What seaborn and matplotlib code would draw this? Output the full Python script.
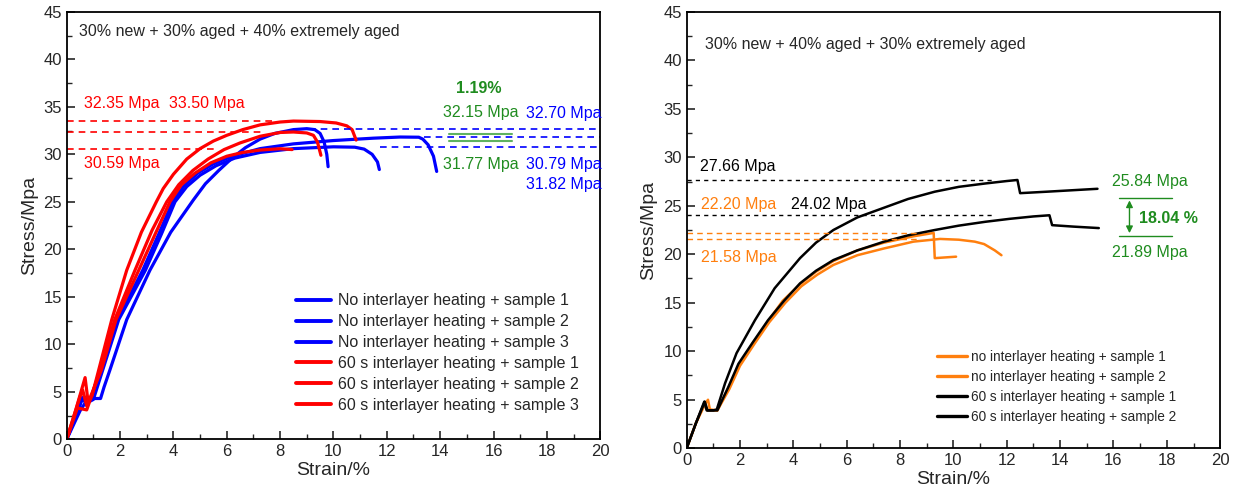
import numpy as np
import pandas as pd
import seaborn as sns
import matplotlib.pyplot as plt
from matplotlib.ticker import MultipleLocator

# ---- left panel: 30% new + 30% aged + 40% extremely aged ----
left_labels = ['No interlayer heating + sample 1', 'No interlayer heating + sample 2',
               'No interlayer heating + sample 3', '60 s interlayer heating + sample 1',
               '60 s interlayer heating + sample 2', '60 s interlayer heating + sample 3']

blue1_strain = [0, 0.45, 0.58, 0.7, 0.9, 1.3, 1.9, 2.85, 3.45, 3.97, 4.4, 4.9, 5.5, 6.2, 7.25, 8.5, 10.0, 11.5, 12.5, 13.2, 13.35, 13.55, 13.75, 13.87]
blue1_stress = [0, 3.2, 4.4, 3.9, 4.1, 7.3, 12.6, 17.8, 21.6, 25.0, 26.7, 28.0, 29.0, 29.8, 30.6, 31.1, 31.45, 31.7, 31.82, 31.8, 31.6, 31.0, 29.8, 28.2]
blue2_strain = [0, 0.55, 0.65, 0.8, 1.0, 1.35, 1.95, 2.95, 3.55, 4.06, 4.5, 5.0, 5.6, 6.3, 7.25, 8.5, 10.0, 10.8, 11.15, 11.45, 11.65, 11.72]
blue2_stress = [0, 4.0, 4.5, 3.9, 4.2, 7.3, 12.6, 17.8, 21.6, 25.0, 26.6, 27.8, 28.8, 29.6, 30.2, 30.6, 30.79, 30.75, 30.55, 30.0, 29.2, 28.4]
blue3_strain = [0, 0.5, 0.8, 1.0, 1.27, 1.4, 1.62, 2.25, 3.12, 3.9, 4.75, 5.2, 5.7, 6.2, 6.7, 7.25, 7.8, 8.5, 9.0, 9.3, 9.5, 9.65, 9.75, 9.8]
blue3_stress = [0, 3.0, 4.3, 4.3, 4.3, 5.5, 7.3, 12.6, 17.8, 21.8, 25.2, 26.9, 28.3, 29.6, 30.7, 31.6, 32.2, 32.6, 32.7, 32.6, 32.2, 31.3, 30.0, 28.7]
red1_strain = [0, 0.35, 0.69, 0.8, 0.95, 1.2, 1.69, 2.25, 2.8, 3.36, 3.62, 4.0, 4.5, 5.0, 5.5, 6.0, 6.6, 7.25, 8.0, 8.5, 9.5, 10.1, 10.5, 10.7, 10.85]
red1_stress = [0, 3.2, 6.5, 4.0, 4.6, 7.3, 12.6, 17.8, 21.8, 25.0, 26.4, 27.9, 29.5, 30.6, 31.4, 32.0, 32.6, 33.1, 33.4, 33.5, 33.45, 33.3, 33.0, 32.6, 31.5]
red2_strain = [0, 0.4, 0.75, 0.9, 1.25, 1.8, 2.56, 3.2, 3.75, 4.2, 4.73, 5.3, 5.9, 6.5, 7.25, 8.0, 8.5, 9.0, 9.25, 9.4, 9.53]
red2_stress = [0, 3.3, 3.1, 4.3, 7.3, 12.6, 17.8, 22.0, 25.0, 26.8, 28.3, 29.5, 30.5, 31.2, 31.9, 32.3, 32.35, 32.25, 32.0, 31.3, 29.9]
red3_strain = [0, 0.5, 0.6, 0.75, 0.85, 1.3, 1.85, 2.7, 3.3, 3.87, 4.3, 4.8, 5.4, 6.0, 6.6, 7.25, 8.0, 8.45]
red3_stress = [0, 4.5, 5.2, 3.5, 4.2, 7.3, 12.6, 17.8, 21.5, 25.0, 26.8, 28.0, 29.1, 29.8, 30.2, 30.45, 30.59, 30.5]

red_peaks = [33.50, 32.35, 30.59]
blue_peaks = [32.70, 31.82, 30.79]
left_avg = [32.15, 31.77]

# ---- right panel: 30% new + 40% aged + 30% extremely aged ----
right_labels = ['no interlayer heating + sample 1', 'no interlayer heating + sample 2',
                '60 s interlayer heating + sample 1', '60 s interlayer heating + sample 2']

or1_strain = [0, 0.35, 0.7, 0.8, 0.87, 1.15, 1.56, 1.96, 2.5, 3.05, 3.6, 4.25, 4.85, 5.5, 6.4, 7.4, 8.5, 9.26, 9.3, 10.1]
or1_stress = [0, 2.6, 4.6, 5.0, 4.0, 3.9, 6.2, 8.6, 10.9, 13.1, 15.2, 16.9, 18.2, 19.3, 20.4, 21.2, 21.85, 22.2, 19.6, 19.75]
or2_strain = [0, 0.35, 0.68, 0.78, 1.15, 1.6, 2.0, 2.55, 3.1, 3.7, 4.3, 4.9, 5.5, 6.4, 7.4, 8.5, 9.5, 10.2, 10.8, 11.15, 11.55, 11.8]
or2_stress = [0, 2.6, 4.7, 3.9, 3.9, 6.1, 8.5, 10.8, 13.0, 15.0, 16.7, 17.9, 18.9, 19.9, 20.6, 21.3, 21.58, 21.5, 21.3, 21.05, 20.4, 19.9]
bk1_strain = [0, 0.35, 0.66, 0.75, 1.0, 1.13, 1.44, 1.87, 2.56, 3.3, 4.25, 4.85, 5.5, 6.4, 7.4, 8.3, 9.3, 10.2, 11.2, 12.0, 12.4, 12.5, 13.5, 15.4]
bk1_stress = [0, 2.6, 4.8, 3.9, 3.9, 4.0, 6.7, 9.8, 13.2, 16.5, 19.6, 21.2, 22.5, 23.8, 24.8, 25.7, 26.45, 26.95, 27.3, 27.55, 27.66, 26.3, 26.45, 26.75]
bk2_strain = [0, 0.35, 0.68, 0.78, 1.15, 1.56, 1.94, 2.5, 3.05, 3.65, 4.25, 4.85, 5.5, 6.4, 7.4, 8.3, 9.3, 10.2, 11.2, 12.1, 13.0, 13.6, 13.7, 14.5, 15.45]
bk2_stress = [0, 2.6, 4.8, 3.9, 3.9, 6.3, 8.7, 11.0, 13.2, 15.2, 17.0, 18.3, 19.4, 20.4, 21.3, 21.95, 22.5, 22.95, 23.35, 23.65, 23.9, 24.02, 23.0, 22.85, 22.7]

orange_peaks = [22.20, 21.58]
black_peaks = [27.66, 24.02]
right_avg = [25.84, 21.89]

GREEN = '#1f8c1f'
ORANGE = '#ff7f0e'


def long_frame(curves, labels):
    parts = []
    for (s, t), lab in zip(curves, labels):
        parts.append(pd.DataFrame({'strain': s, 'stress': t, 'label': lab}))
    return pd.concat(parts, ignore_index=True)


def style_axis(ax):
    ax.set_xlim(0, 20)
    ax.set_ylim(0, 45)
    ax.xaxis.set_major_locator(MultipleLocator(2))
    ax.xaxis.set_minor_locator(MultipleLocator(1))
    ax.yaxis.set_major_locator(MultipleLocator(5))
    ax.yaxis.set_minor_locator(MultipleLocator(2.5))
    ax.tick_params(which='major', direction='in', length=6, width=1.2, labelsize=12)
    ax.tick_params(which='minor', direction='in', length=3.5, width=1.0)
    for sp in ax.spines.values():
        sp.set_visible(True)
        sp.set_linewidth(1.3)
        sp.set_color('black')
    ax.set_xlabel('Strain/%', fontsize=14, labelpad=2)
    ax.set_ylabel('Stress/Mpa', fontsize=14, labelpad=4)


sns.set_style('ticks')
plt.rcParams['font.family'] = ['Liberation Sans', 'DejaVu Sans']

fig = plt.figure(figsize=(12.35, 4.92), dpi=100)
ax1 = fig.add_axes([0.054, 0.107, 0.432, 0.869])
ax2 = fig.add_axes([0.556, 0.089, 0.432, 0.887])

# left panel
df1 = long_frame([(blue1_strain, blue1_stress), (blue2_strain, blue2_stress),
                  (blue3_strain, blue3_stress), (red1_strain, red1_stress),
                  (red2_strain, red2_stress), (red3_strain, red3_stress)], left_labels)
pal1 = dict(zip(left_labels, ['#0000ff'] * 3 + ['#ff0000'] * 3))
sns.lineplot(data=df1, x='strain', y='stress', hue='label', palette=pal1,
             sort=False, estimator=None, lw=2.3, ax=ax1)

for val, xe in zip(red_peaks, [7.9, 7.4, 5.6]):
    ax1.plot([0, xe], [val, val], ls=(0, (4, 3)), color='#ff0000', lw=1.2)
for val, xs in zip(blue_peaks, [9.1, 13.4, 11.75]):
    ax1.plot([xs, 20], [val, val], ls=(0, (4, 3)), color='#0000ff', lw=1.2)
for val in [32.1, 31.45]:
    ax1.plot([14.35, 16.7], [val, val], color='#5fb35f', lw=1.5)

ax1.text(0.45, 42.9, '30% new + 30% aged + 40% extremely aged', fontsize=11.5, va='center')
ax1.text(0.65, 35.3, '32.35 Mpa', color='#ff0000', fontsize=11.5, va='center')
ax1.text(3.85, 35.3, '33.50 Mpa', color='#ff0000', fontsize=11.5, va='center')
ax1.text(0.65, 29.0, '30.59 Mpa', color='#ff0000', fontsize=11.5, va='center')
ax1.text(15.45, 36.9, '1.19%', color=GREEN, fontsize=11.5, fontweight='bold', ha='center', va='center')
ax1.text(14.1, 34.4, '32.15 Mpa', color=GREEN, fontsize=11.5, va='center')
ax1.text(17.2, 34.3, '32.70 Mpa', color='#0000ff', fontsize=11.5, va='center')
ax1.text(14.1, 28.9, '31.77 Mpa', color=GREEN, fontsize=11.5, va='center')
ax1.text(17.2, 28.9, '30.79 Mpa', color='#0000ff', fontsize=11.5, va='center')
ax1.text(17.2, 26.8, '31.82 Mpa', color='#0000ff', fontsize=11.5, va='center')

style_axis(ax1)
h, l = ax1.get_legend_handles_labels()
for hh in h:
    hh.set_linewidth(2.8)
ax1.legend(h, l, loc='lower left', bbox_to_anchor=(0.43, 0.062), frameon=False,
           fontsize=11.5, handlelength=2.2, handletextpad=0.4, labelspacing=0.37,
           borderpad=0, borderaxespad=0)

# right panel
df2 = long_frame([(or1_strain, or1_stress), (or2_strain, or2_stress),
                  (bk1_strain, bk1_stress), (bk2_strain, bk2_stress)], right_labels)
pal2 = dict(zip(right_labels, [ORANGE] * 2 + ['black'] * 2))
sns.lineplot(data=df2, x='strain', y='stress', hue='label', palette=pal2,
             sort=False, estimator=None, lw=1.8, ax=ax2)

for val, xe in zip(black_peaks, [11.5, 11.5]):
    ax2.plot([0, xe], [val, val], ls=(0, (3, 3)), color='black', lw=1.0)
for val, xe in zip(orange_peaks, [8.7, 8.7]):
    ax2.plot([0, xe], [val, val], ls=(0, (4, 3)), color=ORANGE, lw=1.0)
for val in right_avg:
    ax2.plot([16.2, 18.2], [val, val], color=GREEN, lw=1.0)
ax2.annotate('', xy=(16.6, right_avg[1]), xytext=(16.6, right_avg[0]),
             arrowprops=dict(arrowstyle='<|-|>', color=GREEN, lw=1.0, mutation_scale=10))

ax2.text(0.7, 41.6, '30% new + 40% aged + 30% extremely aged', fontsize=11.5, va='center')
ax2.text(0.5, 29.1, '27.66 Mpa', color='black', fontsize=11.5, va='center')
ax2.text(0.55, 25.1, '22.20 Mpa', color=ORANGE, fontsize=11.5, va='center')
ax2.text(3.9, 25.1, '24.02 Mpa', color='black', fontsize=11.5, va='center')
ax2.text(0.55, 19.7, '21.58 Mpa', color=ORANGE, fontsize=11.5, va='center')
ax2.text(15.95, 27.5, '25.84 Mpa', color=GREEN, fontsize=11.5, va='center')
ax2.text(15.95, 20.2, '21.89 Mpa', color=GREEN, fontsize=11.5, va='center')
ax2.text(16.95, 23.7, '18.04 %', color=GREEN, fontsize=11.5, fontweight='bold', va='center')

style_axis(ax2)
h, l = ax2.get_legend_handles_labels()
for hh in h:
    hh.set_linewidth(2.4)
ax2.legend(h, l, loc='lower left', bbox_to_anchor=(0.469, 0.055), frameon=False,
           fontsize=9.8, handlelength=2.2, handletextpad=0.3, labelspacing=0.45,
           borderpad=0, borderaxespad=0)

fig.savefig('out.png', dpi=100)
